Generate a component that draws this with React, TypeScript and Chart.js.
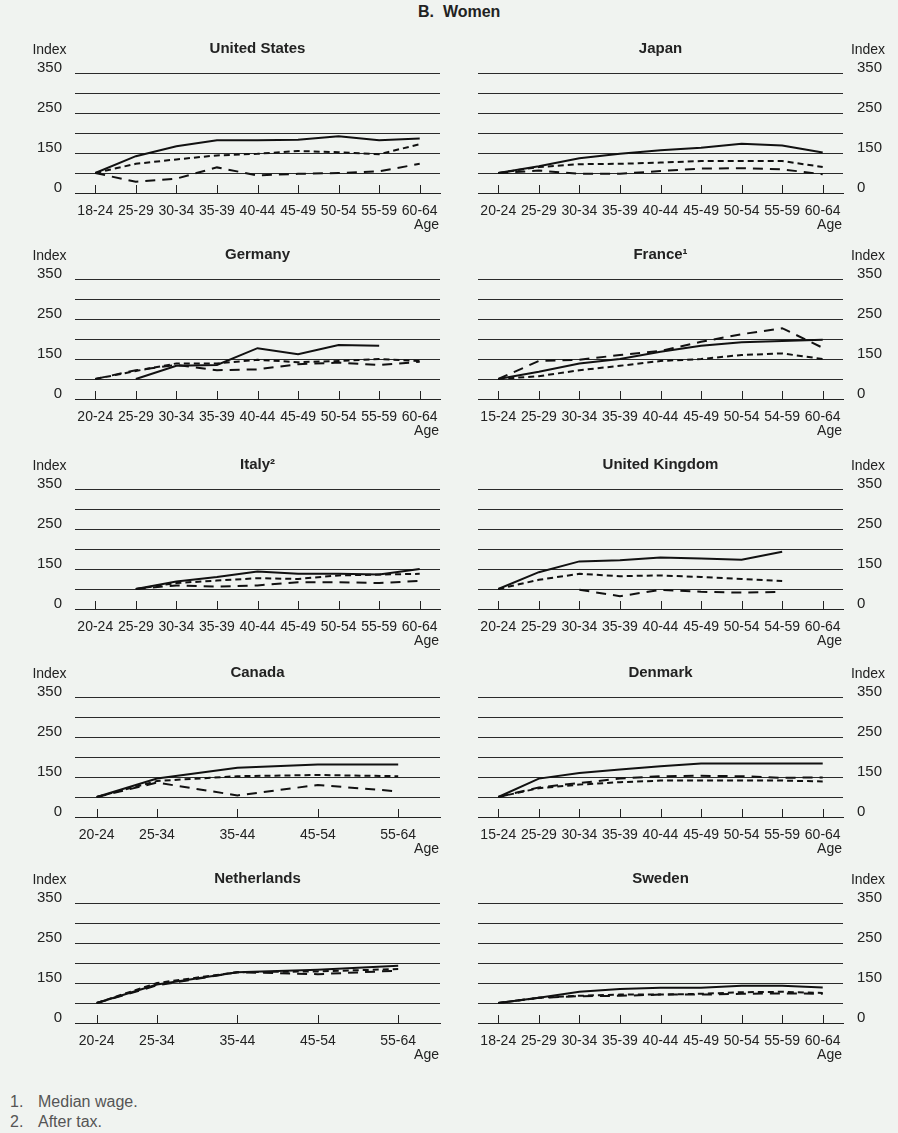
import React, { useEffect, useRef } from 'react';
import { Chart, registerables } from 'chart.js';
Chart.register(...registerables);

const FONT = '"Liberation Sans", Arial, Helvetica, sans-serif';
Chart.defaults.font.family = FONT;

// ---------- data ----------
const AGES_18 = ['18-24', '25-29', '30-34', '35-39', '40-44', '45-49', '50-54', '55-59', '60-64'];
const AGES_20 = ['20-24', '25-29', '30-34', '35-39', '40-44', '45-49', '50-54', '55-59', '60-64'];
const AGES_15 = ['15-24', '25-29', '30-34', '35-39', '40-44', '45-49', '50-54', '55-59', '60-64'];
const AGES_FR = ['15-24', '25-29', '30-34', '35-39', '40-44', '45-49', '50-54', '54-59', '60-64'];
const AGES_UK = ['20-24', '25-29', '30-34', '35-39', '40-44', '45-49', '50-54', '54-59', '60-64'];
const AGES_WIDE = ['20-24', '25-34', '35-44', '45-54', '55-64'];
const AGES_WIDE_MID = [22, 29.5, 39.5, 49.5, 59.5];

const US_SOLID = [100, 142, 167, 182, 182, 183, 192, 182, 186];
const US_SHORT = [100, 123, 134, 144, 148, 155, 152, 147, 172];
const US_LONG = [100, 78, 86, 114, 94, 98, 100, 104, 123];

const JP_SOLID = [100, 117, 137, 148, 157, 163, 173, 169, 151];
const JP_SHORT = [100, 115, 122, 123, 126, 130, 130, 130, 115];
const JP_LONG = [100, 106, 98, 98, 105, 111, 112, 109, 97];

const DE_SOLID = [null, 100, 133, 135, 177, 162, 185, 183, null];
const DE_SHORT = [100, 120, 139, 139, 148, 142, 145, 150, 145];
const DE_LONG = [100, 122, 135, 122, 124, 137, 141, 135, 143];

const FR_SOLID = [100, 118, 139, 150, 168, 183, 192, 195, 198];
const FR_SHORT = [100, 107, 122, 133, 145, 150, 160, 164, 150];
const FR_LONG = [100, 145, 148, 160, 170, 193, 212, 227, 178];

const IT_SOLID = [null, 100, 119, 130, 144, 138, 138, 136, 150];
const IT_SHORT = [null, 100, 115, 121, 127, 125, 134, 136, 138];
const IT_LONG = [null, 100, 109, 106, 109, 117, 117, 115, 120];

const UK_SOLID = [100, 142, 169, 172, 179, 176, 173, 193, null];
const UK_SHORT = [100, 123, 138, 132, 134, 130, 125, 120, null];
const UK_LONG = [null, null, 98, 82, 98, 93, 91, 93, null];

const CA_SOLID = [100, 146, 173, 181, 181];
const CA_SHORT = [100, 140, 152, 155, 152];
const CA_LONG = [100, 136, 104, 130, 114];

const DK_SOLID = [100, 146, 160, 169, 177, 184, 184, 184, 184];
const DK_SHORT = [100, 122, 131, 137, 141, 141, 141, 141, 139];
const DK_LONG = [100, 124, 135, 146, 152, 153, 152, 148, 149];

const NL_SOLID = [100, 146, 177, 183, 193];
const NL_SHORT = [100, 150, 177, 179, 185];
const NL_LONG = [100, 144, 177, 172, 181];

const SE_SOLID = [100, 113, 128, 135, 138, 138, 143, 143, 139];
const SE_SHORT = [100, 113, 118, 121, 121, 123, 127, 128, 125];
const SE_LONG = [100, 113, 117, 118, 121, 121, 123, 124, 123];

const Y_LABELS: Record<number, string> = { 350: '350', 250: '250', 150: '150', 50: '0' };

const ROW_TOPS = [73, 279, 489, 697, 903];

type Series = (number | null)[];
type PanelProps = {
  title: string;
  side: 'left' | 'right';
  row: number;
  labels: string[];
  xs?: number[];
  solid: Series;
  short: Series;
  long: Series;
};

const PAD_TOP = 35;
const AREA_H = 120;
const X_H = 42;

function Panel(p: PanelProps) {
  const ref = useRef<HTMLCanvasElement>(null);
  const isLeft = p.side === 'left';
  const canvasLeft = isLeft ? 20 : 460;
  const canvasW = isLeft ? 430 : 438;
  const canvasTop = ROW_TOPS[p.row] - PAD_TOP;
  const canvasH = PAD_TOP + AREA_H + X_H;

  useEffect(() => {
    if (!ref.current) return;
    const xs = p.xs;
    const toData = (arr: Series) => (xs ? arr.map((y, i) => ({ x: xs[i], y })) : arr);
    const ds = (arr: Series, dash: number[]) => ({
      data: toData(arr) as any,
      borderColor: '#111',
      borderWidth: 2,
      borderDash: dash,
      pointRadius: 0,
      fill: false,
      tension: 0,
      spanGaps: false,
    });
    const tickFont = { size: 14 };
    const xScale: any = xs
      ? {
          type: 'linear',
          min: 19.3,
          max: 64.7,
          afterBuildTicks: (s: any) => {
            s.ticks = xs.map((v) => ({ value: v }));
          },
          ticks: {
            autoSkip: false,
            maxRotation: 0,
            padding: 10,
            font: tickFont,
            color: '#222',
            callback: (v: any) => {
              const i = xs.indexOf(Number(v));
              return i >= 0 ? p.labels[i] : '';
            },
          },
          grid: { display: true, drawOnChartArea: false, drawTicks: false },
          border: { display: true, color: '#222', width: 1 },
          afterFit: (s: any) => {
            s.height = X_H;
          },
        }
      : {
          type: 'category',
          offset: true,
          ticks: { autoSkip: false, maxRotation: 0, padding: 10, font: tickFont, color: '#222' },
          grid: { display: true, drawOnChartArea: false, drawTicks: false, offset: false },
          border: { display: true, color: '#222', width: 1 },
          afterFit: (s: any) => {
            s.height = X_H;
          },
        };

    const decor = {
      id: 'decor',
      afterDraw(chart: any) {
        const { ctx, chartArea: a, scales } = chart;
        ctx.save();
        ctx.fillStyle = '#222';
        ctx.textBaseline = 'middle';
        ctx.textAlign = 'center';
        ctx.font = `bold 15px ${FONT}`;
        ctx.fillText(p.title, (a.left + a.right) / 2, a.top - 24);
        ctx.font = `14px ${FONT}`;
        ctx.fillText('Index', isLeft ? a.left - 25.5 : a.right + 25, a.top - 23);
        ctx.textAlign = 'right';
        ctx.fillText('Age', a.right - 1, a.bottom + 32);
        const sx = scales.x;
        ctx.strokeStyle = '#222';
        ctx.lineWidth = 1;
        sx.ticks.forEach((_t: any, i: number) => {
          const x = Math.round(sx.getPixelForTick(i)) + 0.5;
          ctx.beginPath();
          ctx.moveTo(x, a.bottom);
          ctx.lineTo(x, a.bottom - 8);
          ctx.stroke();
        });
        ctx.restore();
      },
    };

    const chart = new Chart(ref.current, {
      type: 'line',
      data: {
        labels: xs ? undefined : p.labels,
        datasets: [ds(p.solid, []), ds(p.short, [6, 4]), ds(p.long, [10, 7])],
      } as any,
      options: {
        responsive: false,
        animation: false,
        events: [],
        layout: {
          padding: { top: PAD_TOP, bottom: 0, left: isLeft ? 0 : 18, right: isLeft ? 10 : 0 },
        },
        plugins: { legend: { display: false }, tooltip: { enabled: false }, title: { display: false } },
        scales: {
          x: xScale,
          y: {
            position: isLeft ? 'left' : 'right',
            min: 50,
            max: 350,
            afterFit: (s: any) => {
              s.width = 55;
            },
            afterBuildTicks: (s: any) => {
              s.ticks = [50, 100, 150, 200, 250, 300, 350].map((v) => ({ value: v }));
            },
            ticks: {
              autoSkip: false,
              padding: isLeft ? 13 : 14,
              labelOffset: -5,
              font: { size: 15 },
              color: '#222',
              callback: (v: any) => Y_LABELS[Number(v)] ?? '',
            },
            grid: { color: '#2a2a2a', lineWidth: 1, drawTicks: false },
            border: { display: false },
          },
        },
      } as any,
      plugins: [decor],
    });
    return () => chart.destroy();
  }, []);

  return (
    <canvas
      ref={ref}
      width={canvasW}
      height={canvasH}
      style={{ position: 'absolute', left: canvasLeft, top: canvasTop, width: canvasW, height: canvasH }}
    />
  );
}

export default function App() {
  return (
    <div
      style={{
        position: 'absolute',
        left: 0,
        top: 0,
        width: 898,
        height: 1133,
        background: '#f0f3f0',
        fontFamily: FONT,
        color: '#222',
        overflow: 'hidden',
      }}
    >
      <div style={{ position: 'absolute', left: 418, top: 3, fontSize: 16, fontWeight: 'bold', whiteSpace: 'pre' }}>
        {'B.  Women'}
      </div>
      <Panel title="United States" side="left" row={0} labels={AGES_18} solid={US_SOLID} short={US_SHORT} long={US_LONG} />
      <Panel title="Japan" side="right" row={0} labels={AGES_20} solid={JP_SOLID} short={JP_SHORT} long={JP_LONG} />
      <Panel title="Germany" side="left" row={1} labels={AGES_20} solid={DE_SOLID} short={DE_SHORT} long={DE_LONG} />
      <Panel title="France¹" side="right" row={1} labels={AGES_FR} solid={FR_SOLID} short={FR_SHORT} long={FR_LONG} />
      <Panel title="Italy²" side="left" row={2} labels={AGES_20} solid={IT_SOLID} short={IT_SHORT} long={IT_LONG} />
      <Panel title="United Kingdom" side="right" row={2} labels={AGES_UK} solid={UK_SOLID} short={UK_SHORT} long={UK_LONG} />
      <Panel title="Canada" side="left" row={3} labels={AGES_WIDE} xs={AGES_WIDE_MID} solid={CA_SOLID} short={CA_SHORT} long={CA_LONG} />
      <Panel title="Denmark" side="right" row={3} labels={AGES_15} solid={DK_SOLID} short={DK_SHORT} long={DK_LONG} />
      <Panel title="Netherlands" side="left" row={4} labels={AGES_WIDE} xs={AGES_WIDE_MID} solid={NL_SOLID} short={NL_SHORT} long={NL_LONG} />
      <Panel title="Sweden" side="right" row={4} labels={AGES_18} solid={SE_SOLID} short={SE_SHORT} long={SE_LONG} />
      <div style={{ position: 'absolute', left: 10, top: 1093, fontSize: 16, color: '#555' }}>1.</div>
      <div style={{ position: 'absolute', left: 38, top: 1093, fontSize: 16, color: '#555' }}>Median wage.</div>
      <div style={{ position: 'absolute', left: 10, top: 1113, fontSize: 16, color: '#555' }}>2.</div>
      <div style={{ position: 'absolute', left: 38, top: 1113, fontSize: 16, color: '#555' }}>After tax.</div>
    </div>
  );
}
